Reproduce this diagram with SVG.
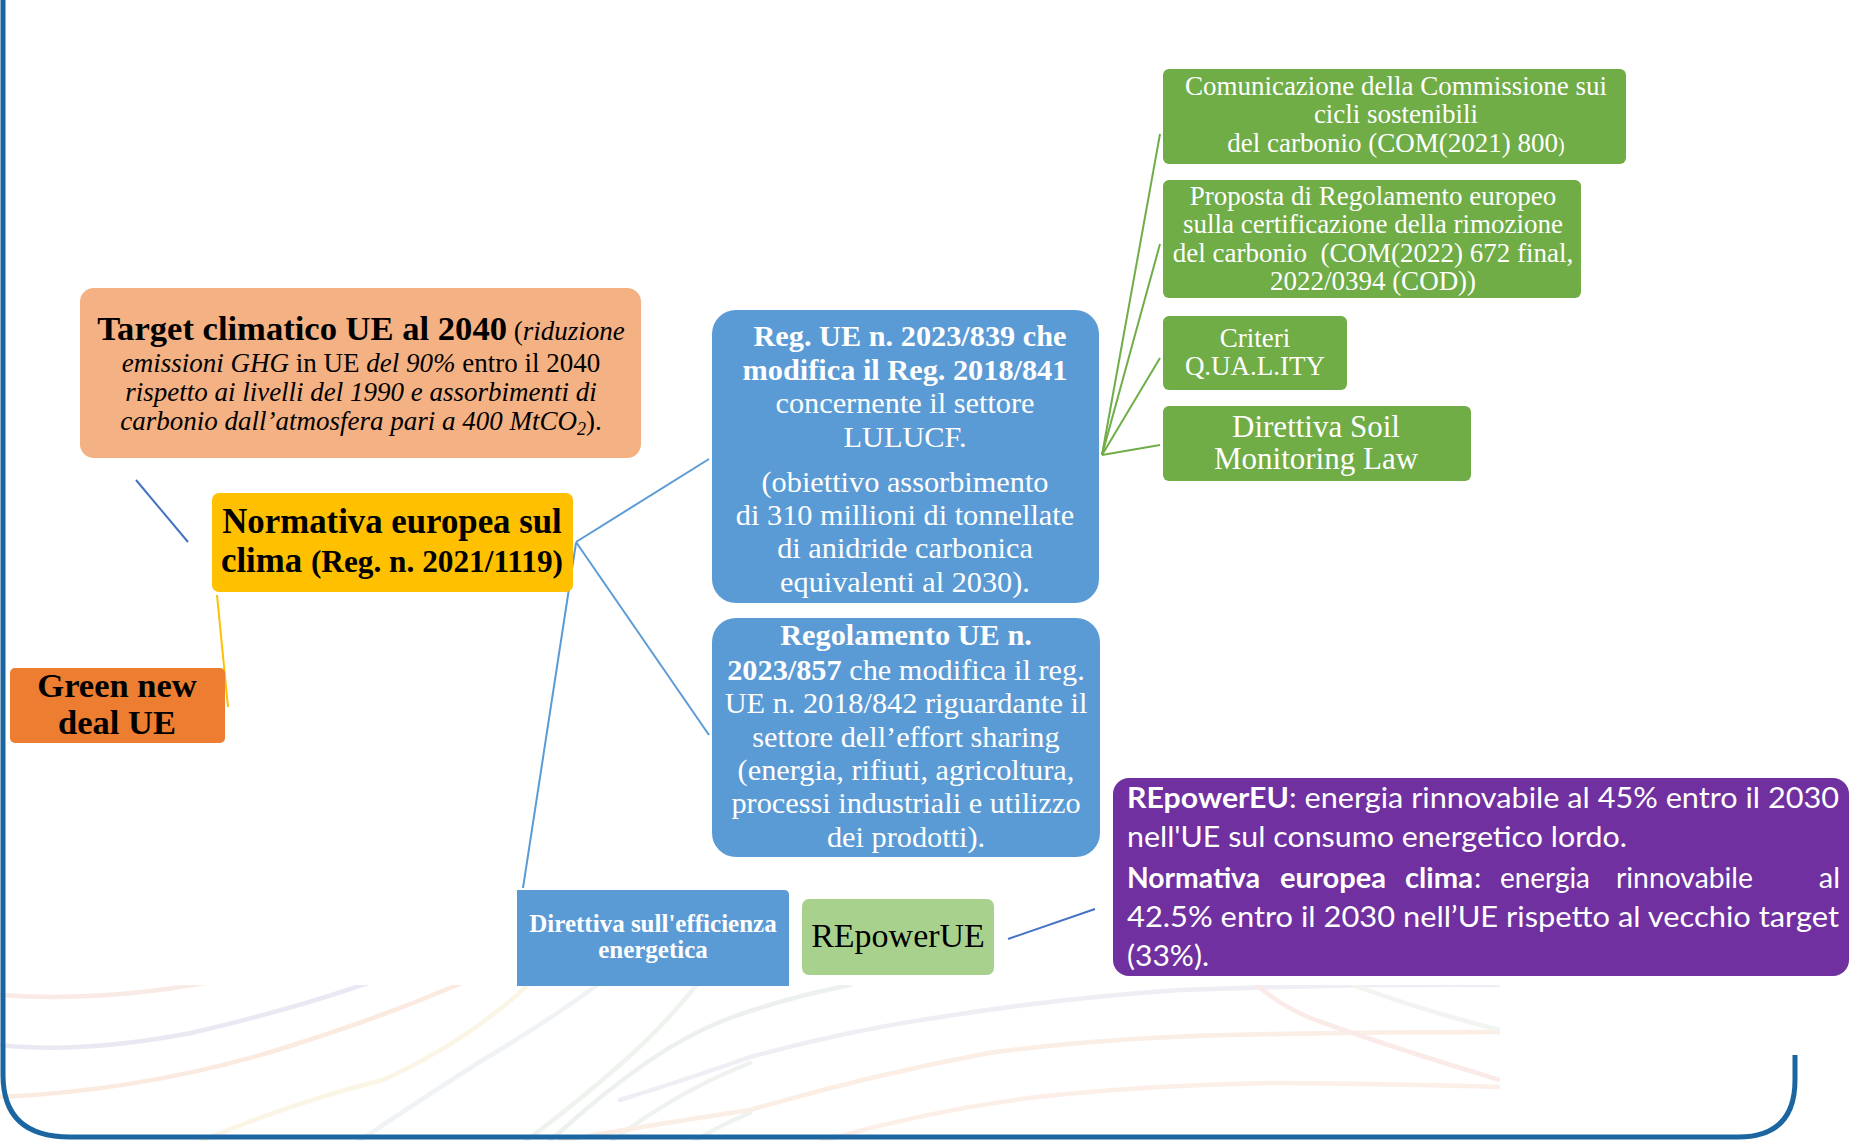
<svg xmlns="http://www.w3.org/2000/svg" width="1851" height="1141" viewBox="0 0 1851 1141">
<defs>
<style>
.serif{font-family:"Liberation Serif","Times New Roman",serif;}
.sans{font-family:Lato,"Open Sans","Liberation Sans",sans-serif;}
.b{font-weight:bold;}
.i{font-style:italic;}
.w{fill:#ffffff;}
.k{fill:#000000;}
.mid{text-anchor:middle;}
.con{fill:none;stroke-width:2;}
.wave{fill:none;stroke-width:4.5;stroke-linecap:round;}
</style>
<clipPath id="waveclip"><rect x="0" y="985" width="1500" height="156"/></clipPath>
</defs>
<rect x="0" y="0" width="1851" height="1141" fill="#ffffff"/>

<g id="background-waves" clip-path="url(#waveclip)" opacity="0.6">
<path class="wave" stroke="#F6DDD6" d="M0 995 Q100 1002 205 983"/>
<path class="wave" stroke="#DEDAEC" d="M0 1045 Q80 1054 191 1033 Q290 1010 368 983"/>
<path class="wave" stroke="#F9DDCC" d="M0 1097 Q150 1090 287 1047 Q380 1018 462 983"/>
<path class="wave" stroke="#F8EFD3" d="M201 1141 Q300 1100 383 1080 Q470 1040 530 983"/>
<path class="wave" stroke="#E6ECF1" d="M359 1141 Q420 1100 478 1063 Q550 1020 600 983"/>
<path class="wave" stroke="#E3ECE2" d="M526 1141 Q580 1100 622 1063 Q665 1025 698 983"/>
<path class="wave" stroke="#E2E9E2" d="M550 1141 Q600 1095 646 1063 Q700 1025 760 1008 Q800 995 850 985"/>
<path class="wave" stroke="#E6ECE6" d="M612 1141 Q680 1090 750 1063"/>
<path class="wave" stroke="#E6ECE6" d="M695 1141 Q720 1125 750 1113"/>
<path class="wave" stroke="#E7E4F0" d="M620 1100 Q700 1075 750 1057 Q850 1030 941 1017 Q1060 998 1180 990 Q1340 984 1500 985"/>
<path class="wave" stroke="#FAE3D4" d="M560 1141 Q650 1125 750 1110 Q870 1075 989 1053 Q1100 1038 1228 1035 Q1360 1032 1500 1032"/>
<path class="wave" stroke="#FBE6DA" d="M822 1141 Q930 1110 1037 1097 Q1150 1085 1276 1083 Q1400 1084 1500 1087"/>
<path class="wave" stroke="#F7DEDA" d="M1257 985 Q1285 1010 1324 1023 Q1400 1050 1500 1080"/>
<path class="wave" stroke="#EAEDE8" d="M1353 985 Q1420 1010 1500 1030"/>
</g>

<g id="frame">
<path d="M3 0 V1075 Q3 1137 70 1137 H1738 Q1795 1137 1795 1080 V1055" fill="none" stroke="#1B66A0" stroke-width="5"/>
</g>

<g id="connectors">
<line class="con" stroke="#4472C4" x1="136" y1="480" x2="188" y2="542"/>
<line class="con" stroke="#FFC000" x1="217" y1="595" x2="228" y2="707"/>
<line class="con" stroke="#5B9BD5" x1="576" y1="542" x2="709" y2="459"/>
<line class="con" stroke="#5B9BD5" x1="576" y1="542" x2="709" y2="735"/>
<line class="con" stroke="#5B9BD5" x1="576" y1="543" x2="523" y2="888"/>
<line class="con" stroke="#70AD47" x1="1102" y1="455" x2="1160" y2="134"/>
<line class="con" stroke="#70AD47" x1="1102" y1="455" x2="1160" y2="244"/>
<line class="con" stroke="#70AD47" x1="1102" y1="455" x2="1160" y2="358"/>
<line class="con" stroke="#70AD47" x1="1102" y1="455" x2="1160" y2="445"/>
<line class="con" stroke="#4472C4" x1="1008" y1="939" x2="1095" y2="909"/>
</g>

<g id="target-2040">
<rect x="80" y="288" width="561" height="170" rx="14" fill="#F4B183"/>
<text class="serif k mid" x="361" y="340" font-size="27"><tspan class="b" font-size="34.6">Target climatico UE al 2040</tspan> (<tspan class="i">riduzione</tspan></text>
<text class="serif k mid" x="361" y="372" font-size="27"><tspan class="i">emissioni GHG</tspan> in UE <tspan class="i">del 90%</tspan> entro il 2040</text>
<text class="serif k mid i" x="361" y="401" font-size="27">rispetto ai livelli del 1990 e assorbimenti di</text>
<text class="serif k mid" x="361" y="430" font-size="27"><tspan class="i">carbonio dall’atmosfera pari a 400 MtCO</tspan><tspan font-size="18" dy="5" class="i">2</tspan><tspan dy="-5">).</tspan></text>
</g>

<g id="normativa-clima">
<rect x="212" y="493" width="361" height="99" rx="7" fill="#FFC000"/>
<text class="serif k mid b" x="392" y="533" font-size="34.8">Normativa europea sul</text>
<text class="serif k mid b" x="392" y="572" font-size="34.8">clima <tspan font-size="31.3">(Reg. n. 2021/1119)</tspan></text>
</g>

<g id="green-new-deal">
<rect x="10" y="668" width="215" height="75" rx="5" fill="#ED7D31"/>
<text class="serif k mid b" x="117" y="697" font-size="34.5">Green new</text>
<text class="serif k mid b" x="117" y="734" font-size="34.5">deal UE</text>
</g>

<g id="reg-2023-839">
<rect x="712" y="310" width="387" height="293" rx="24" fill="#5B9BD5"/>
<text class="serif w mid b" x="910" y="346" font-size="30.3">Reg. UE n. 2023/839 che</text>
<text class="serif w mid b" x="905" y="380" font-size="30.3">modifica il Reg. 2018/841</text>
<text class="serif w mid" x="905" y="413" font-size="30.3">concernente il settore</text>
<text class="serif w mid" x="905" y="447" font-size="30.3">LULUCF.</text>
<text class="serif w mid" x="905" y="492" font-size="30.3">(obiettivo assorbimento</text>
<text class="serif w mid" x="905" y="525" font-size="30.3">di 310 millioni di tonnellate</text>
<text class="serif w mid" x="905" y="558" font-size="30.3">di anidride carbonica</text>
<text class="serif w mid" x="905" y="592" font-size="30.3">equivalenti al 2030).</text>
</g>

<g id="reg-2023-857">
<rect x="712" y="618" width="388" height="239" rx="24" fill="#5B9BD5"/>
<text class="serif w mid b" x="906" y="645" font-size="30.3">Regolamento UE n.</text>
<text class="serif w mid" x="906" y="680" font-size="30.3"><tspan class="b">2023/857</tspan> che modifica il reg.</text>
<text class="serif w mid" x="906" y="713" font-size="30.3">UE n. 2018/842 riguardante il</text>
<text class="serif w mid" x="906" y="747" font-size="30.3">settore dell’effort sharing</text>
<text class="serif w mid" x="906" y="780" font-size="30.3">(energia, rifiuti, agricoltura,</text>
<text class="serif w mid" x="906" y="813" font-size="30.3">processi industriali e utilizzo</text>
<text class="serif w mid" x="906" y="847" font-size="30.3">dei prodotti).</text>
</g>

<g id="direttiva-efficienza">
<path d="M517 890 H784 Q789 890 789 895 V986 H517 Z" fill="#5B9BD5"/>
<text class="serif w mid b" x="653" y="932" font-size="25">Direttiva sull'efficienza</text>
<text class="serif w mid b" x="653" y="958" font-size="25">energetica</text>
</g>

<g id="repowerue">
<rect x="802" y="899" width="192" height="76" rx="7" fill="#A9D18E"/>
<text class="serif k mid" x="898" y="947" font-size="34">REpowerUE</text>
</g>

<g id="repower-note">
<rect x="1113" y="778" width="736" height="198" rx="16" fill="#7030A0"/>
<text class="sans w b" x="1127" y="808" font-size="29" textLength="162" lengthAdjust="spacingAndGlyphs">REpowerEU</text>
<text class="sans w" x="1289" y="808" font-size="29" textLength="550" lengthAdjust="spacingAndGlyphs">: energia rinnovabile al 45% entro il 2030</text>
<text class="sans w" x="1127" y="847" font-size="29" textLength="500" lengthAdjust="spacingAndGlyphs">nell'UE sul consumo energetico lordo.</text>
<text class="sans w b" x="1127" y="888" font-size="29" textLength="133" lengthAdjust="spacingAndGlyphs">Normativa</text>
<text class="sans w b" x="1280" y="888" font-size="29" textLength="106" lengthAdjust="spacingAndGlyphs">europea</text>
<text class="sans w b" x="1405" y="888" font-size="29" textLength="68" lengthAdjust="spacingAndGlyphs">clima</text>
<text class="sans w" x="1474" y="888" font-size="29">:</text>
<text class="sans w" x="1500" y="888" font-size="29" textLength="90" lengthAdjust="spacingAndGlyphs">energia</text>
<text class="sans w" x="1616" y="888" font-size="29" textLength="137" lengthAdjust="spacingAndGlyphs">rinnovabile</text>
<text class="sans w" x="1840" y="888" font-size="29" text-anchor="end">al</text>
<text class="sans w" x="1127" y="927" font-size="29" textLength="712" lengthAdjust="spacingAndGlyphs">42.5% entro il 2030 nell’UE rispetto al vecchio target</text>
<text class="sans w" x="1127" y="966" font-size="29" textLength="82" lengthAdjust="spacingAndGlyphs">(33%).</text>
</g>

<g id="com-2021-800">
<rect x="1163" y="69" width="463" height="95" rx="6" fill="#70AD47"/>
<text class="serif w mid" x="1396" y="95" font-size="27">Comunicazione della Commissione sui</text>
<text class="serif w mid" x="1396" y="123" font-size="27">cicli sostenibili</text>
<text class="serif w mid" x="1396" y="152" font-size="27">del carbonio (COM(2021) 800<tspan font-size="20">)</tspan></text>
</g>

<g id="com-2022-672">
<rect x="1163" y="180" width="418" height="118" rx="6" fill="#70AD47"/>
<text class="serif w mid" x="1373" y="205" font-size="27">Proposta di Regolamento europeo</text>
<text class="serif w mid" x="1373" y="233" font-size="27">sulla certificazione della rimozione</text>
<text class="serif w mid" x="1373" y="262" font-size="27" xml:space="preserve">del carbonio  (COM(2022) 672 final,</text>
<text class="serif w mid" x="1373" y="290" font-size="27">2022/0394 (COD))</text>
</g>

<g id="criteri-quality">
<rect x="1163" y="316" width="184" height="74" rx="6" fill="#70AD47"/>
<text class="serif w mid" x="1255" y="347" font-size="27">Criteri</text>
<text class="serif w mid" x="1255" y="375" font-size="27">Q.UA.L.ITY</text>
</g>

<g id="soil-monitoring">
<rect x="1163" y="406" width="308" height="75" rx="6" fill="#70AD47"/>
<text class="serif w mid" x="1316" y="437" font-size="31">Direttiva Soil</text>
<text class="serif w mid" x="1316" y="469" font-size="31">Monitoring Law</text>
</g>
</svg>
